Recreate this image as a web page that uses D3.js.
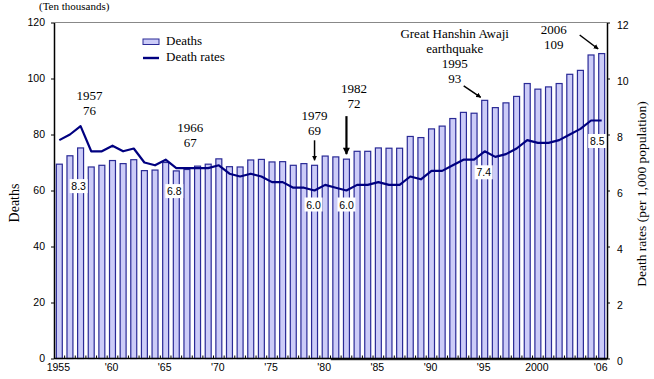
<!DOCTYPE html>
<html>
<head>
<meta charset="utf-8">
<script src="https://cdn.jsdelivr.net/npm/d3@7"></script>
<style>
  body { margin:0; background:#fff; }
  svg text { font-family:"Liberation Serif", serif; }
  .tick-label { font-family:"Liberation Sans", Arial, sans-serif; font-size:10.5px; }
  .rate-label { font-family:"Liberation Sans", Arial, sans-serif; font-size:10.5px; }
</style>
</head>
<body>
<script>
// years 1955 - 2006
var years = d3.range(1955, 2007);
// deaths (ten thousands)
var deaths = [69.4,72.4,75.2,68.4,69.0,70.7,69.6,71.0,67.1,67.3,
  70.0,67.0,67.5,68.7,69.4,71.3,68.5,68.4,70.9,71.1,
  70.2,70.3,69.0,69.6,69.0,72.3,72.0,71.2,74.0,74.0,
  75.2,75.1,75.1,79.3,78.9,82.0,83.0,85.7,87.9,87.6,
  92.2,89.6,91.3,93.6,98.2,96.2,97.0,98.2,101.5,102.9,
  108.4,108.9];
// death rates (per 1,000 population)
var rates = [7.8,8.0,8.3,7.4,7.4,7.6,7.4,7.5,7.0,6.9,
  7.1,6.8,6.8,6.8,6.8,6.9,6.6,6.5,6.6,6.5,
  6.3,6.3,6.1,6.1,6.0,6.2,6.1,6.0,6.2,6.2,
  6.3,6.2,6.2,6.5,6.4,6.7,6.7,6.9,7.1,7.1,
  7.4,7.2,7.3,7.5,7.8,7.7,7.7,7.8,8.0,8.2,
  8.5,8.5];
var leftTicks = [0,20,40,60,80,100,120];
var rightTicks = [0,2,4,6,8,10,12];
var xTickYears = [1955,1960,1965,1970,1975,1980,1985,1990,1995,2000,2006];
var xTickLabels = ["1955","'60","'65","'70","'75","'80","'85","'90","'95","2000","'06"];

// annotated years
var noteYears = [1957,1966,1979,1982,1995,2006];
var noteText = [["1957","76"],["1966","67"],["1979","69"],["1982","72"],
  ["Great Hanshin Awaji","earthquake","1995","93"],["2006","109"]];
var rateLabelYears = [1957,1966,1979,1982,1995,2006];

var W = 654, H = 379;
var pL = 54, pR = 607, pT = 22.5, pB = 358.5;

var svg = d3.select('body').append('svg').attr('width',W).attr('height',H);

var x = d3.scaleBand().domain(years).range([pL,pR]).paddingInner(0.44).paddingOuter(0.22);
var y = d3.scaleLinear().domain([0,120]).range([pB,pT]);
var y2 = d3.scaleLinear().domain([0,12]).range([pB,pT]);
var cx = function(yr){ return x(yr) + x.bandwidth()/2; };

// top border
svg.append('line').attr('x1',pL).attr('x2',pR).attr('y1',pT).attr('y2',pT)
  .style('stroke','#888').style('stroke-width',1);

// bars
svg.append('g').selectAll('rect').data(years).enter().append('rect')
  .attr('x',(d)=>x(d)).attr('width',x.bandwidth())
  .attr('y',(d,i)=>y(deaths[i])).attr('height',(d,i)=>pB-y(deaths[i]))
  .attr('fill','#ccccf8').style('stroke','#2a2a96').style('stroke-width',1.2);

// axes
var yAxis = d3.axisLeft(y).tickValues(leftTicks).tickSize(3).tickSizeOuter(0);
var gy = svg.append('g').attr('transform','translate('+pL+',0)').call(yAxis);
gy.select('.domain').style('stroke','#000').style('stroke-width',1.5);
gy.selectAll('text').attr('class','tick-label').attr('dx',-3).style('fill','#000');

var y2Axis = d3.axisRight(y2).tickValues(rightTicks).tickSize(3).tickSizeOuter(0);
var gy2 = svg.append('g').attr('transform','translate('+pR+',0)').call(y2Axis);
gy2.select('.domain').style('stroke','#000').style('stroke-width',1.5);
gy2.selectAll('text').attr('class','tick-label').attr('dx',4).attr('dy','0.6em').style('fill','#000');

// x axis: small inward ticks at band boundaries
var gx = svg.append('g');
gx.append('line').attr('x1',pL).attr('x2',pR).attr('y1',pB).attr('y2',pB)
  .style('stroke','#000').style('stroke-width',1.5);
gx.append('line').attr('x1',x(1981)-2).attr('x2',pR).attr('y1',pB+1.2).attr('y2',pB+1.2)
  .style('stroke','#000').style('stroke-width',1);
gx.selectAll('.xt').data(years.slice(1)).enter().append('line')
  .attr('x1',(d)=>x(d)-x.step()*x.paddingInner()/2).attr('x2',(d)=>x(d)-x.step()*x.paddingInner()/2)
  .attr('y1',pB).attr('y2',pB-3).style('stroke','#000');
gx.selectAll('.xl').data(xTickYears).enter().append('text').attr('class','tick-label')
  .attr('x',(d)=>cx(d)-1).attr('y',pB+12).attr('text-anchor','middle')
  .text((d,i)=>xTickLabels[i]);

// rate line
var line = d3.line().x((d)=>cx(d)).y((d,i)=>y2(rates[i]));
svg.append('path').datum(years).attr('d',line)
  .attr('fill','none').style('stroke','#000080').style('stroke-width',2.2)
  .style('stroke-linejoin','round');

// rate labels
var rateOffset = {1957:60,1966:23,1979:14,1982:14,1995:21,2006:20.5};
var rateDx = {1957:-2,1966:-2,1979:-1,1982:0,1995:-1,2006:-4.5};
rateLabelYears.forEach(function(yr){
  var i = years.indexOf(yr);
  var g = svg.append('g').attr('transform','translate('+(cx(yr)+rateDx[yr])+','+(y2(rates[i])+rateOffset[yr])+')');
  g.append('rect').attr('x',-9).attr('y',-7).attr('width',18).attr('height',14).attr('fill','#fff');
  g.append('text').attr('class','rate-label').attr('text-anchor','middle').attr('y',4)
    .text(rates[i].toFixed(1));
});

// annotations: offset of text block and arrows relative to bar top
var noteDx = [9,14,0,7.5,-30,-48];
var noteDy = [-33,-23.6,-30,-51,-17,-4.3];
var arrows = {1979:[0,-25,0,-5,1.5],1982:[0,-43,0,-5,2.2],1995:[-21,-14.5,-4,-3,1.5],2006:[-22,-18.6,-3.5,-4.6,1.5]};

svg.append('defs').append('marker').attr('id','ah').attr('viewBox','0 0 10 10')
  .attr('refX',9).attr('refY',5).attr('markerWidth',5).attr('markerHeight',6)
  .attr('markerUnits','userSpaceOnUse').attr('orient','auto')
  .append('path').attr('d','M0,0L10,5L0,10Z').attr('fill','#000');
svg.select('defs').append('marker').attr('id','ah2').attr('viewBox','0 0 10 10')
  .attr('refX',9).attr('refY',5).attr('markerWidth',8).attr('markerHeight',7)
  .attr('markerUnits','userSpaceOnUse').attr('orient','auto')
  .append('path').attr('d','M0,0L10,5L0,10Z').attr('fill','#000');

noteYears.forEach(function(yr,k){
  var i = years.indexOf(yr);
  var bx = cx(yr), by = y(deaths[i]);
  var lines = noteText[k];
  var t = svg.append('text').attr('text-anchor','middle').style('font-size','13px');
  lines.forEach(function(s,j){
    t.append('tspan').attr('x',bx+noteDx[k])
      .attr('y',by+noteDy[k]-(lines.length-1-j)*15).text(s);
  });
  var a = arrows[yr];
  if(a){
    svg.append('line').attr('x1',bx+a[0]).attr('y1',by+a[1]).attr('x2',bx+a[2]).attr('y2',by+a[3])
      .style('stroke','#000').style('stroke-width',a[4])
      .attr('marker-end', yr==1982 ? 'url(#ah2)' : 'url(#ah)');
  }
});

// legend
var lg = svg.append('g').attr('transform','translate(143,39)');
lg.append('rect').attr('width',16).attr('height',5.5).attr('fill','#ccccf8')
  .style('stroke','#2a2a96').style('stroke-width',1);
lg.append('text').attr('x',23).attr('y',6).style('font-size','13px').text('Deaths');
lg.append('line').attr('x1',0).attr('x2',16).attr('y1',19).attr('y2',19)
  .style('stroke','#000080').style('stroke-width',2.4);
lg.append('text').attr('x',23).attr('y',22).style('font-size','13px').text('Death rates');

// axis titles
svg.append('text').attr('x',39).attr('y',10).style('font-size','11px').text('(Ten thousands)');
svg.append('text').attr('transform','translate(19,203) rotate(-90)').attr('text-anchor','middle')
  .style('font-size','14px').text('Deaths');
svg.append('text').attr('transform','translate(646,194) rotate(-90)').attr('text-anchor','middle')
  .style('font-size','13.5px').text('Death rates (per 1,000 population)');
</script>
</body>
</html>
